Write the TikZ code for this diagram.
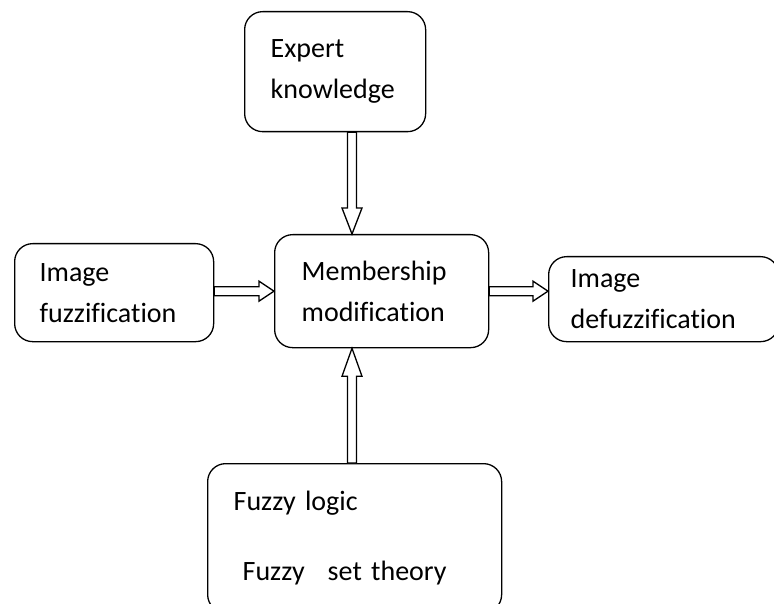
\documentclass[tikz,border=0pt]{standalone}
\usepackage{fontspec}
\setmainfont[Ligatures=NoCommon, WordSpace=0.75]{Carlito}
\usetikzlibrary{calc, positioning}

\tikzset{
  block/.style={draw, line width=1.3pt, rounded corners=18pt, anchor=north west,
    align=left, font=\fontsize{28}{41}\selectfont, inner ysep=0pt},
  arrowline/.style={draw, line width=1.3pt, line join=miter, fill=white}
}

% hollow block arrow from #2 to #3, head length #1
\newcommand{\hollowarrow}[3][15pt]{%
  \coordinate (ha-s) at (#2);
  \coordinate (ha-e) at (#3);
  \coordinate (ha-b) at ($(ha-e)!#1!(ha-s)$);
  \draw[arrowline] ($(ha-s)!4.5pt!90:(ha-e)$) -- ($(ha-b)!4.5pt!-90:(ha-s)$)
    -- ($(ha-b)!10pt!-90:(ha-s)$) -- (ha-e) -- ($(ha-b)!10pt!90:(ha-s)$)
    -- ($(ha-b)!4.5pt!90:(ha-s)$) -- ($(ha-s)!4.5pt!-90:(ha-e)$) -- cycle;}

\begin{document}
\begin{tikzpicture}[x=1pt, y=-1pt]
\useasboundingbox (0,0) rectangle (774,604);

\node[block, minimum width=181pt, minimum height=120pt, text width=129pt,
    inner xsep=26pt] at (244,11) (expert) {Expert\\knowledge};

\node[block, minimum width=214pt, minimum height=113pt, text width=160pt,
    inner xsep=27pt] at (274,234) (memb) {Membership\\modification};

\node[block, minimum width=199pt, minimum height=98pt, text width=149pt,
    inner xsep=25pt] at (14,243) (fuzz) {Image\\fuzzification};

\node[block, minimum width=230pt, minimum height=85pt, text width=186pt,
    inner xsep=22pt] at (548,256) (defuzz) {Image\\defuzzification};

\node[block, minimum width=294pt, minimum height=149pt, text width=242pt,
    inner xsep=26pt] at (207,463) (fuzzy)
    {Fuzzy logic\\[29pt]\hspace*{9pt}Fuzzy\hspace{23pt}set theory};

\coordinate (axis) at (352,0);

\hollowarrow[26pt]{axis |- expert.south}{axis |- memb.north}
\hollowarrow[28pt]{axis |- fuzzy.north}{axis |- memb.south}
\hollowarrow{fuzz.east |- memb.west}{memb.west}
\hollowarrow{memb.east}{memb.east -| defuzz.west}

\end{tikzpicture}
\end{document}
